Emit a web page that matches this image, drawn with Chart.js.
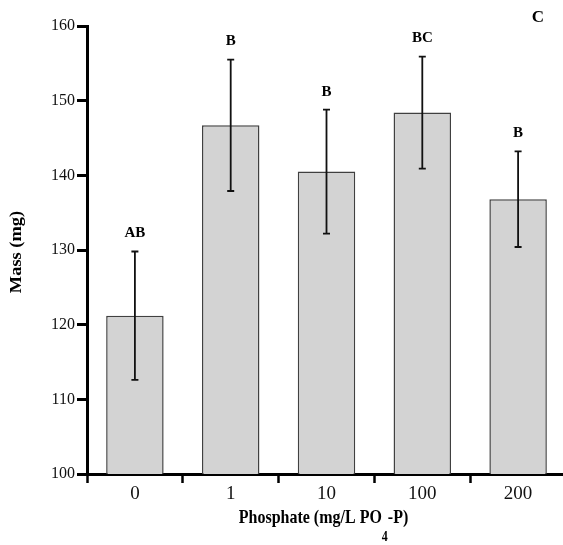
<!DOCTYPE html>
<html><head><meta charset="utf-8">
<script src="https://cdn.jsdelivr.net/npm/chart.js@4"></script>
<style>
html,body{margin:0;padding:0;overflow:hidden;background:#fff;width:563px;height:545px}
#wrap{position:absolute;left:0;top:0;width:566px;height:545px}
</style>
</head><body><div id="wrap"><canvas id="c" width="566" height="545"></canvas></div>
<script>
const categories = ['0', '1', '10', '100', '200'];
const meanMass = [121.2, 146.7, 140.5, 148.4, 136.8];
const errMass = [8.6, 8.8, 8.3, 7.5, 6.4];
const groupLetters = ['AB', 'B', 'B', 'BC', 'B'];
const yTicks = [100, 110, 120, 130, 140, 150, 160];
const panelLabel = 'C';
const yTitle = 'Mass (mg)';
const xTitleParts = ['Phosphate (mg/L PO', '4', '-P)'];

const FONT = '"Liberation Serif", "Times New Roman", serif';

const overlay = {
  id: 'overlay',
  afterDatasetsDraw(chart) {
    const ctx = chart.ctx, xs = chart.scales.x, ys = chart.scales.y;
    ctx.save();
    meanMass.forEach((m, i) => {
      const cx = xs.getPixelForValue(i);
      const yt = ys.getPixelForValue(m + errMass[i]);
      const yb = ys.getPixelForValue(m - errMass[i]);
      ctx.strokeStyle = '#111';
      ctx.lineWidth = 1.8;
      ctx.beginPath();
      ctx.moveTo(cx, yt); ctx.lineTo(cx, yb);
      ctx.moveTo(cx - 3.5, yt); ctx.lineTo(cx + 3.5, yt);
      ctx.moveTo(cx - 3.5, yb); ctx.lineTo(cx + 3.5, yb);
      ctx.stroke();
      ctx.fillStyle = '#000';
      ctx.font = 'bold 15px ' + FONT;
      ctx.textAlign = 'center';
      ctx.textBaseline = 'middle';
      ctx.fillText(groupLetters[i], cx, yt - 18);
    });
    ctx.restore();
  },
  afterDraw(chart) {
    const ctx = chart.ctx, area = chart.chartArea;
    // panel label
    ctx.save();
    ctx.fillStyle = '#000';
    ctx.font = 'bold 17px ' + FONT;
    ctx.textAlign = 'center';
    ctx.textBaseline = 'middle';
    ctx.fillText(panelLabel, 538, 18);
    ctx.restore();
    // y title
    ctx.save();
    ctx.translate(17, (area.top + area.bottom) / 2 + 2);
    ctx.rotate(-Math.PI / 2);
    ctx.scale(1.15, 1);
    ctx.fillStyle = '#000';
    ctx.font = 'bold 16px ' + FONT;
    ctx.textAlign = 'center';
    ctx.textBaseline = 'middle';
    ctx.fillText(yTitle, 0, 0);
    ctx.restore();
    // x title with subscript
    ctx.save();
    const mainFont = 'bold 16px ' + FONT, subFont = 'bold 12px ' + FONT;
    ctx.font = mainFont; const w0 = ctx.measureText(xTitleParts[0]).width;
    const w2 = ctx.measureText(xTitleParts[2]).width;
    ctx.font = subFont; const w1 = ctx.measureText(xTitleParts[1]).width;
    const total = w0 + w1 + w2;
    const cx = 323.5;
    ctx.translate(cx - total / 2, 523);
    ctx.scale(1, 1.15);
    ctx.fillStyle = '#000';
    ctx.textAlign = 'left';
    ctx.textBaseline = 'alphabetic';
    ctx.font = mainFont; ctx.fillText(xTitleParts[0], 0, 0);
    ctx.font = subFont; ctx.fillText(xTitleParts[1], w0, 15.5);
    ctx.font = mainFont; ctx.fillText(xTitleParts[2], w0 + w1, 0);
    ctx.restore();
  }
};

new Chart(document.getElementById('c'), {
  type: 'bar',
  data: {
    labels: categories,
    datasets: [{
      data: meanMass,
      backgroundColor: '#d3d3d3',
      borderColor: '#404040',
      borderWidth: 1.5,
      barPercentage: 0.6,
      categoryPercentage: 1.0
    }]
  },
  options: {
    responsive: false,
    animation: false,
    devicePixelRatio: 1,
    layout: { padding: { top: 26, left: 0, right: 0, bottom: 0 } },
    plugins: { legend: { display: false }, tooltip: { enabled: false } },
    scales: {
      x: {
        type: 'category',
        offset: true,
        grid: { display: true, drawOnChartArea: false, offset: true, tickLength: 9, tickWidth: 2.5, tickColor: '#000' },
        border: { display: true, color: '#000', width: 3 },
        ticks: { color: '#111', padding: 0, font: { family: FONT, size: 19 } },
        afterFit(s) { s.height = 71; }
      },
      y: {
        min: 100, max: 160,
        afterBuildTicks(s) { s.ticks = yTicks.map(v => ({ value: v })); },
        grid: { display: true, drawOnChartArea: false, tickLength: 10, tickWidth: 3, tickColor: '#000' },
        border: { display: true, color: '#000', width: 3 },
        ticks: { color: '#111', padding: 2, font: { family: FONT, size: 16 } },
        afterFit(s) { s.width = 87; }
      }
    }
  },
  plugins: [overlay]
});
</script>
</body></html>
